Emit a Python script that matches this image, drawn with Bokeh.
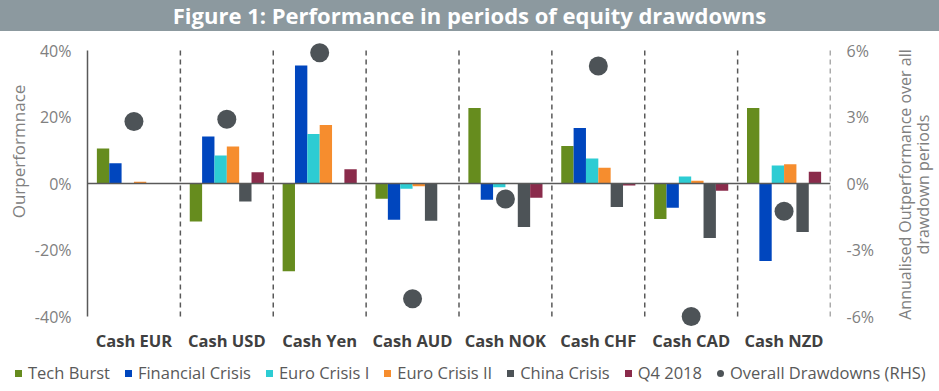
import math
from bokeh.plotting import figure
from bokeh.layouts import column, row
from bokeh.models import (ColumnDataSource, FactorRange, Range1d, LinearAxis, FixedTicker,
                          PrintfTickFormatter, Span, Label, Div)
from bokeh.transform import dodge
from bokeh.embed import file_html
from bokeh.resources import INLINE

# ---------------- data ----------------
categories = ["Cash EUR", "Cash USD", "Cash Yen", "Cash AUD", "Cash NOK", "Cash CHF", "Cash CAD", "Cash NZD"]
series_names = ["Tech Burst", "Financial Crisis", "Euro Crisis I", "Euro Crisis II", "China Crisis", "Q4 2018"]
tech_burst = [10.5, -11.4, -26.4, -4.6, 22.7, 11.3, -10.7, 22.7]
financial_crisis = [6.1, 14.1, 35.5, -10.9, -4.9, 16.7, -7.3, -23.3]
euro_crisis_1 = [0.0, 8.4, 14.9, -1.6, -1.1, 7.5, 2.1, 5.4]
euro_crisis_2 = [0.5, 11.1, 17.6, -0.8, 0.0, 4.7, 0.8, 5.8]
china_crisis = [0.0, -5.4, 0.0, -11.2, -13.1, -7.1, -16.4, -14.6]
q4_2018 = [0.0, 3.4, 4.3, 0.0, -4.3, -0.6, -2.2, 3.5]
overall_name = "Overall Drawdowns (RHS)"
overall_drawdowns = [2.8, 2.9, 5.9, -5.2, -0.7, 5.3, -6.0, -1.25]
left_ticks = [-40, -20, 0, 20, 40]
right_ticks = [-6, -3, 0, 3, 6]
title_text = "Figure 1: Performance in periods of equity drawdowns"
left_label = "Ourperformnace"
right_label_lines = ["Annualised Outperformance over all", "drawdown periods"]

# ---------------- styles ----------------
colors = ["#668C1E", "#0046BE", "#2DCCD3", "#F68D2E", "#4D5357", "#8A2B4B"]
dot_color = "#4D5357"
band_color = "#8C999F"
axis_gray = "#595959"
tick_gray = "#808080"
FONT = "Open Sans"

W, H = 939, 391
TITLE_H = 31
LEG_H = 30
MAIN_H = H - TITLE_H - LEG_H
LW, RW = 30, 49                           # side strips holding the axis titles
MW = W - LW - RW                          # main figure width
FL, FR = 87, 830                          # frame left/right (page px)
FT, FB = 40 - TITLE_H, 326 - TITLE_H      # frame top/bottom in main-figure px
EXT = 10                                  # frame extends 10px beyond the outer ticks
BW = 0.133

series_values = [tech_burst, financial_crisis, euro_crisis_1, euro_crisis_2, china_crisis, q4_2018]
data = dict(cat=categories, overall=overall_drawdowns)
keys = []
for i, vals in enumerate(series_values):
    k = "s%d" % i
    keys.append(k)
    data[k] = vals
src = ColumnDataSource(data)

ymin, ymax = left_ticks[0], left_ticks[-1]
rmin, rmax = right_ticks[0], right_ticks[-1]
tick_span_px = (FB - FT) - 2 * EXT
lpad = EXT * (ymax - ymin) / tick_span_px
rpad = EXT * (rmax - rmin) / tick_span_px

# ---------------- title (band) ----------------
title_div = Div(text=title_text, width=W, height=TITLE_H, margin=0,
                styles={"background-color": band_color, "color": "white", "font-family": "'Open Sans'",
                        "font-weight": "bold", "font-size": "22px", "text-align": "center",
                        "line-height": "%dpx" % TITLE_H, "white-space": "nowrap"})

# ---------------- main figure ----------------
p = figure(width=MW, height=MAIN_H, x_range=FactorRange(*categories), y_range=Range1d(ymin - lpad, ymax + lpad),
           output_backend="svg", toolbar_location=None,
           min_border_left=FL - LW, min_border_right=LW + MW - FR, min_border_top=FT, min_border_bottom=MAIN_H - FB)
p.extra_y_ranges = {"rhs": Range1d(rmin - rpad, rmax + rpad)}
p.outline_line_color = None
p.xgrid.visible = False
p.ygrid.visible = False

nser = len(series_values)
for i, k in enumerate(keys):
    p.vbar(x=dodge("cat", (i - (nser - 1) / 2) * BW, range=p.x_range), top=k, width=BW, source=src,
           fill_color=colors[i], line_color=None)

# dividers between categories
p.segment(x0=dodge("cat", 0.5, range=p.x_range), y0=ymin, x1=dodge("cat", 0.5, range=p.x_range), y1=ymax,
          source=src, line_color=axis_gray, line_width=1.5, line_dash="5 4")
# zero line
p.add_layout(Span(location=0, dimension="width", line_color=axis_gray, line_width=1.5))

# dots (RHS)
p.scatter(x="cat", y="overall", y_range_name="rhs", size=19, fill_color=dot_color, line_color=None, source=src)

# left axis
ya = p.yaxis[0]
ya.ticker = FixedTicker(ticks=left_ticks)
ya.formatter = PrintfTickFormatter(format="%d%%")
ya.bounds = (ymin, ymax)
ya.axis_line_color = axis_gray
ya.axis_line_width = 1.5
ya.major_tick_line_color = None
ya.minor_tick_line_color = None
ya.major_tick_out = 0
ya.major_tick_in = 0
ya.major_label_standoff = 16
ya.major_label_text_font = FONT
ya.major_label_text_font_size = "16px"
ya.major_label_text_color = tick_gray

# right axis
ra = LinearAxis(y_range_name="rhs", ticker=FixedTicker(ticks=right_ticks),
                formatter=PrintfTickFormatter(format="%d%%"))
ra.axis_line_color = None
ra.major_tick_line_color = None
ra.minor_tick_line_color = None
ra.major_tick_out = 0
ra.major_tick_in = 0
ra.major_label_standoff = 16
ra.major_label_text_font = FONT
ra.major_label_text_font_size = "16px"
ra.major_label_text_color = tick_gray
p.add_layout(ra, "right")

# x axis
xa = p.xaxis[0]
xa.axis_line_color = None
xa.major_tick_line_color = None
xa.minor_tick_line_color = None
xa.major_tick_out = 0
xa.major_tick_in = 0
xa.major_label_standoff = 2
xa.major_label_text_font = FONT
xa.major_label_text_font_size = "16.5px"
xa.major_label_text_font_style = "bold"
xa.major_label_text_color = "#404040"

# ---------------- axis-title strips ----------------
def strip(x0, x1):
    f = figure(width=x1 - x0, height=MAIN_H, x_range=Range1d(x0, x1),
               y_range=Range1d(FB + TITLE_H, FT + TITLE_H),   # page pixels, top-down
               output_backend="svg", toolbar_location=None, x_axis_location=None, y_axis_location=None,
               min_border_left=0, min_border_right=0, min_border_top=FT, min_border_bottom=MAIN_H - FB)
    f.outline_line_color = None
    f.xgrid.visible = False
    f.ygrid.visible = False
    return f

lf = strip(0, LW)
lf.add_layout(Label(x=17.5, y=151, text=left_label, angle=math.pi / 2, text_align="center",
                    text_baseline="middle", text_font=FONT, text_font_size="17px", text_color=tick_gray))
rf = strip(LW + MW, W)
for line_text, lx in zip(right_label_lines, [904, 922]):
    rf.add_layout(Label(x=lx, y=184, text=line_text, angle=math.pi / 2, text_align="center",
                        text_baseline="middle", text_font=FONT, text_font_size="16px", text_color=tick_gray))

# ---------------- legend (HTML row under the chart) ----------------
legend_names = series_names + [overall_name]
legend_colors = colors + [dot_color]
legend_shapes = ["0"] * len(series_names) + ["50%"]
parts = []
for name, col, rad in zip(legend_names, legend_colors, legend_shapes):
    parts.append(
        '<span style="display:inline-flex;align-items:center;margin-left:15px;">'
        '<span style="display:inline-block;width:7px;height:7px;border-radius:%s;background:%s;margin-right:6px;"></span>'
        '%s</span>' % (rad, col, name))
legend_html = ('<div style="display:flex;align-items:center;white-space:nowrap;height:20px;line-height:20px;'
               'padding-top:4px;font-family:\'Open Sans\';font-size:16.5px;color:%s;">%s</div>'
               % (axis_gray, "".join(parts)))
leg = Div(text=legend_html, width=W, height=LEG_H, margin=0)

layout = column(title_div, row(lf, p, rf, spacing=0), leg, spacing=0)
open("out.html", "w").write(file_html(layout, INLINE))
